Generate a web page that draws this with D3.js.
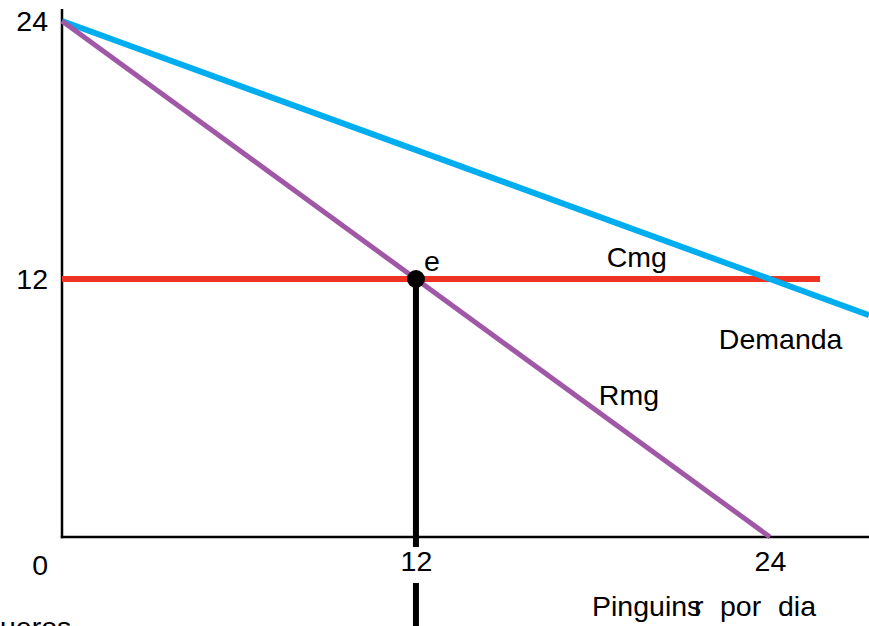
<!DOCTYPE html>
<html><head><meta charset="utf-8">
<script src="https://cdn.jsdelivr.net/npm/d3@7"></script>
<style>html,body{margin:0;padding:0;background:#fff;overflow:hidden}svg{display:block;font-family:"Liberation Sans",Arial,Helvetica,sans-serif}</style>
</head><body>
<script>
// Data
const xTicks = [12, 24];
const yTicks = [12, 24];
const demanda = [[0, 24], [27.36, 10.32]];   // P = 24 - 0.5Q
const rmg = [[0, 24], [24, 0]];              // P = 24 - Q
const cmg = [[0, 12], [25.7, 12]];           // constant marginal cost
const equilibrium = {q: 12, p: 12, label: "e"};
const curveLabels = [
  {text: "Cmg", q: 18.47, p: 12.56},
  {text: "Demanda", q: 22.27, p: 8.74},
  {text: "Rmg", q: 18.2, p: 6.14}
];

const W = 869, H = 626;
const x = d3.scaleLinear().domain([0, 27.36]).range([62, 869]);
const y = d3.scaleLinear().domain([0, 24]).range([537, 21]);

const svg = d3.select("body").append("svg").attr("width", W).attr("height", H);

const fs = 28.5;
const gx = svg.append("g").attr("transform", `translate(0,${y(0)})`)
  .call(d3.axisBottom(x).tickValues(xTicks).tickSize(0).tickPadding(14).tickFormat(d3.format("d")));
gx.select(".domain").remove();
gx.selectAll("text").attr("font-size", fs).attr("font-family", "Liberation Sans, Arial, sans-serif").attr("fill", "#000");

const gy = svg.append("g").attr("transform", `translate(${x(0)},0)`)
  .call(d3.axisLeft(y).tickValues(yTicks).tickSize(0).tickPadding(14).tickFormat(d3.format("d")));
gy.select(".domain").remove();
gy.selectAll("text").attr("font-size", fs).attr("font-family", "Liberation Sans, Arial, sans-serif").attr("fill", "#000");

svg.append("text").attr("x", x(0) - 14).attr("y", y(0) + 38).attr("text-anchor", "end")
  .attr("font-size", fs).text("0");

const line = d3.line().x(d => x(d[0])).y(d => y(d[1]));

// axis lines
svg.append("line").attr("x1", x(0)).attr("x2", x(0)).attr("y1", 9).attr("y2", y(0) + 1.2)
  .attr("stroke", "#000").attr("stroke-width", 2.5);
svg.append("line").attr("x1", x(0) - 1.2).attr("x2", W).attr("y1", y(0)).attr("y2", y(0))
  .attr("stroke", "#000").attr("stroke-width", 2.5);

// vertical line at equilibrium quantity
svg.append("line").attr("x1", x(equilibrium.q)).attr("x2", x(equilibrium.q))
  .attr("y1", y(equilibrium.p)).attr("y2", y(0) + 10).attr("stroke", "#000").attr("stroke-width", 6);
svg.append("line").attr("x1", x(equilibrium.q)).attr("x2", x(equilibrium.q))
  .attr("y1", y(0) + 46).attr("y2", H).attr("stroke", "#000").attr("stroke-width", 6);

// curves
svg.append("path").attr("d", line(cmg)).attr("fill", "none").attr("stroke", "#EE3224").attr("stroke-width", 6);
svg.append("path").attr("d", line(demanda)).attr("fill", "none").attr("stroke", "#00AEEF").attr("stroke-width", 6);
svg.append("path").attr("d", line(rmg)).attr("fill", "none").attr("stroke", "#A057A6").attr("stroke-width", 5);

// equilibrium point
svg.append("circle").attr("cx", x(equilibrium.q)).attr("cy", y(equilibrium.p)).attr("r", 9).attr("fill", "#000");
svg.append("text").attr("x", x(equilibrium.q) + 8).attr("y", y(equilibrium.p) - 8)
  .attr("font-size", fs).text(equilibrium.label);

// curve labels
svg.selectAll("text.cl").data(curveLabels).enter().append("text").attr("class", "cl")
  .attr("x", d => x(d.q)).attr("y", d => y(d.p)).attr("font-size", fs).text(d => d.text);

// x-axis title (with overlapping r as in the original)
svg.append("text").attr("x", 592).attr("y", 616).attr("font-size", fs).text("Pinguins");
svg.append("text").attr("x", 694).attr("y", 616).attr("font-size", fs).text("r");
svg.append("text").attr("x", 720).attr("y", 616).attr("font-size", fs).text("por");
svg.append("text").attr("x", 778).attr("y", 616).attr("font-size", fs).text("dia");

// clipped text at bottom left
svg.append("text").attr("x", 0).attr("y", 637).attr("font-size", fs).text("ueros");
</script>
</body></html>
